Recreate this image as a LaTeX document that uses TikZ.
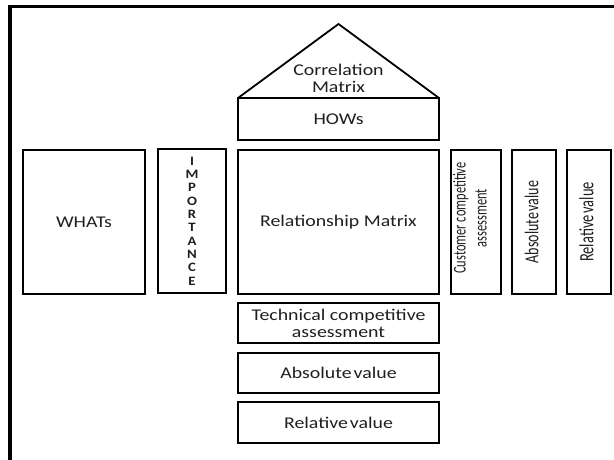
\documentclass[tikz,border=0pt]{standalone}
\usepackage{fontspec}
\setmainfont{Carlito}
\newfontfamily\hfont[FakeStretch=1.21]{Carlito}
\newfontfamily\hbfont[FakeStretch=1.15]{Carlito Bold}
\newcommand\vlines[4]{\scalebox{1}[#4]{\fontsize{#1}{#2}\selectfont\begin{tabular}{@{}c@{}}#3\end{tabular}}}
\begin{document}
\begin{tikzpicture}[x=1pt,y=-1pt,
  box/.style={draw=black, line width=1.8pt, inner sep=0pt, outer sep=0pt, text=black!88, align=center},
  htext/.style={font=\hfont\fontsize{16.4}{18}\selectfont},
  vtext/.style={rotate=90, text=black!88, inner sep=0pt},
  frame/.style={line width=3.5pt, draw=black}]
\useasboundingbox (0,0) rectangle (614,459);
% outer frame (partly visible)
\coordinate (ftr) at (616,6.5);
\coordinate (ftl) at (10,6.5);
\coordinate (fbl) at (10,461);
\draw[frame] (ftr) -- (ftl) -- (fbl);
% HOWs and roof
\node[box, htext, minimum width=201, minimum height=42] (hows) at (338.5,119) {HOWs};
\coordinate (apex) at (338.5,24);
\draw[line width=1.8pt, line join=miter] (hows.north west) -- (apex) -- (hows.north east);
\node[htext, text=black!88, align=center, inner sep=0pt] (corr) at (338.5,78.5) {Correlation\\[-1pt]Matrix};
% main row
\node[box, htext, minimum width=122, minimum height=144] (whats) at (84,222) {WHATs};
\node[box, minimum width=68, minimum height=144, font=\hbfont\fontsize{12.8}{13.3}\selectfont] (imp) at (192,221) {I\\M\\P\\O\\R\\T\\A\\N\\C\\E};
\node[box, htext, minimum width=201, minimum height=144] (rel) at (338.5,222) {Relationship Matrix};
\node[box, minimum width=50, minimum height=144] (cust) at (476,222) {};
\node[vtext] (custt) at (472,218) {\vlines{12.4}{14.5}{Customer competitive\\assessment}{1.45}};
\node[box, minimum width=44, minimum height=144] (absv) at (534,222) {};
\node[vtext] (absvt) at (absv.center) {\vlines{14}{16}{Absolute\hspace{0.12em}value}{1.4}};
\node[box, minimum width=44, minimum height=144] (relv) at (589,222) {};
\node[vtext] (relvt) at (relv.center) {\vlines{14.5}{16}{Relative\hspace{0.12em}value}{1.4}};
% bottom stack
\node[box, htext, minimum width=201, minimum height=40] (tech) at (338.5,323) {Technical competitive\\[-1pt]assessment};
\node[box, htext, minimum width=201, minimum height=40] (absh) at (338.5,373) {Absolute\hspace{0.12em}value};
\node[box, htext, minimum width=201, minimum height=41] (relh) at (338.5,422.5) {Relative\hspace{0.12em}value};
\end{tikzpicture}
\end{document}
